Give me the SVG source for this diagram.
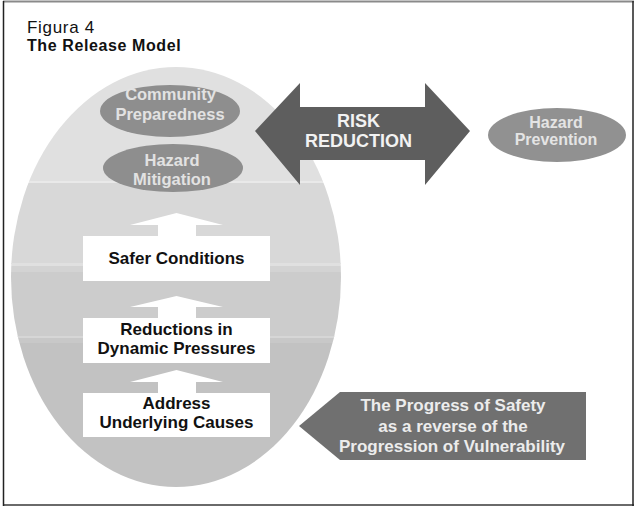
<svg xmlns="http://www.w3.org/2000/svg" width="636" height="509" viewBox="0 0 636 509">
  <style>
    .t { font-family: "Liberation Sans", Arial, sans-serif; font-weight: bold; text-anchor: middle; }
    .dark { font-size: 17px; fill: #111; }
    .pale { font-size: 16.5px; fill: #e2e2e2; }
    .oval { fill: #8e8e8e; }
    .upArrow { fill: #ffffff; }
    .box { fill: #ffffff; }
  </style>
  <defs>
    <clipPath id="shell">
      <ellipse cx="176" cy="277" rx="165" ry="210"/>
    </clipPath>
  </defs>

  <rect x="0" y="0" width="636" height="509" fill="#ffffff"/>

  <!-- frame -->
  <g id="frame" fill="none">
    <line x1="3" y1="1.5" x2="634" y2="1.5" stroke="#8a8a8a" stroke-width="2"/>
    <line x1="3" y1="505" x2="634" y2="505" stroke="#6a6a6a" stroke-width="2"/>
    <line x1="3.5" y1="1" x2="3.5" y2="506" stroke="#222" stroke-width="1.5"/>
    <line x1="633" y1="1" x2="633" y2="506" stroke="#222" stroke-width="1.5"/>
  </g>

  <!-- title -->
  <g id="title" font-family="Liberation Sans, Arial, sans-serif">
    <text x="27" y="33" font-size="17" letter-spacing="0.7" fill="#111">Figura 4</text>
    <text x="27" y="50.5" font-size="16" font-weight="bold" letter-spacing="0.6" fill="#111">The Release Model</text>
  </g>

  <!-- banded shell of the release model -->
  <g id="shell-bands" clip-path="url(#shell)">
    <rect x="0" y="60" width="360" height="122" fill="#e0e0e0"/>
    <rect x="0" y="181" width="360" height="2" fill="#e9e9e9"/>
    <rect x="0" y="183" width="360" height="81" fill="#d8d8d8"/>
    <rect x="0" y="263" width="360" height="3" fill="#e0e0e0"/>
    <rect x="0" y="266" width="360" height="6" fill="#d3d3d3"/>
    <rect x="0" y="272" width="360" height="65" fill="#cccccc"/>
    <rect x="0" y="336" width="360" height="2" fill="#d6d6d6"/>
    <rect x="0" y="338" width="360" height="5" fill="#c8c8c8"/>
    <rect x="0" y="343" width="360" height="150" fill="#c2c2c2"/>
  </g>

  <!-- connectors -->
  <g id="connectors">
    <polygon id="risk-reduction-arrow" points="255,131 300,83 300,107 425,107 425,83 470,131 425,185 425,160 300,160 300,185" fill="#5e5e5e"/>
    <polygon id="progress-arrow" points="299,426 340,392 586,392 586,460 340,460" fill="#707070"/>
    <polygon class="upArrow" points="130,225 176.5,213 223,225 196,225 196,237 158,237 158,225"/>
    <polygon class="upArrow" points="130,307 176.5,296 223,307 196,307 196,319 158,319 158,307"/>
    <polygon class="upArrow" points="130,382 176.5,370 223,382 196,382 196,393 158,393 158,382"/>
  </g>

  <g id="community-preparedness">
    <ellipse class="oval" cx="170" cy="111" rx="70" ry="26"/>
    <text class="t pale" x="170.5" y="100">Community</text>
    <text class="t pale" x="170" y="120">Preparedness</text>
  </g>

  <g id="hazard-mitigation">
    <ellipse class="oval" cx="173" cy="168" rx="70" ry="24"/>
    <text class="t pale" x="172" y="166" font-size="17">Hazard</text>
    <text class="t pale" x="172" y="185" font-size="17">Mitigation</text>
  </g>

  <g id="risk-reduction">
    <text class="t" x="358.5" y="126.5" font-size="18" fill="#f2f2f2">RISK</text>
    <text class="t" x="358.5" y="146.5" font-size="18" fill="#f2f2f2">REDUCTION</text>
  </g>

  <g id="hazard-prevention">
    <ellipse cx="557" cy="135" rx="69" ry="27" fill="#919191"/>
    <text class="t" x="556" y="127.5" font-size="16" fill="#e4e4e4">Hazard</text>
    <text class="t" x="556" y="145" font-size="16" fill="#e4e4e4">Prevention</text>
  </g>

  <g id="safer-conditions">
    <rect class="box" x="83" y="236" width="187" height="45"/>
    <text class="t dark" x="176.5" y="264">Safer Conditions</text>
  </g>

  <g id="reductions-dynamic-pressures">
    <rect class="box" x="83" y="318" width="187" height="45"/>
    <text class="t dark" x="176.5" y="334.5">Reductions in</text>
    <text class="t dark" x="176.5" y="353.5">Dynamic Pressures</text>
  </g>

  <g id="address-underlying-causes">
    <rect class="box" x="83" y="393" width="187" height="44"/>
    <text class="t dark" x="176.5" y="408.5">Address</text>
    <text class="t dark" x="176.5" y="427.5">Underlying Causes</text>
  </g>

  <g id="progress-of-safety">
    <text class="t" x="453" y="410.5" font-size="17" fill="#ececec">The Progress of Safety</text>
    <text class="t" x="453" y="431.5" font-size="17" fill="#ececec">as a reverse of the</text>
    <text class="t" x="452" y="452" font-size="17" fill="#ececec">Progression of Vulnerability</text>
  </g>
</svg>
